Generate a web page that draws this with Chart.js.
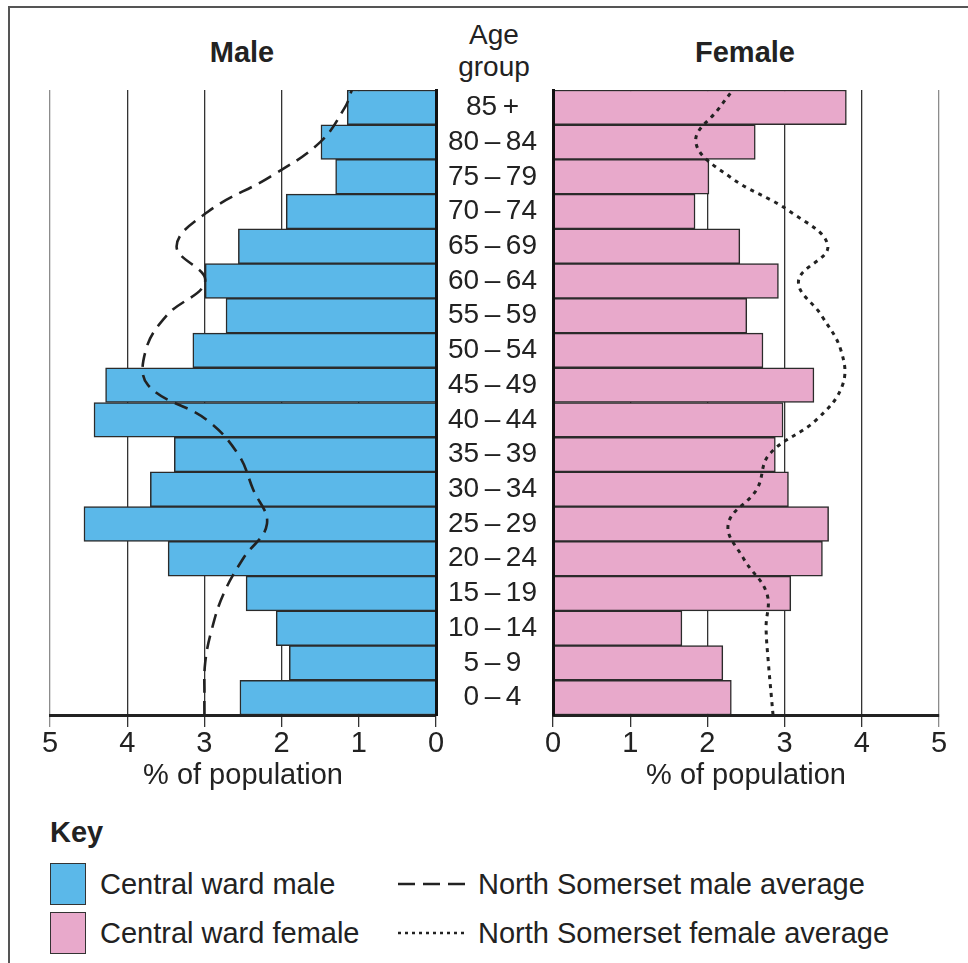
<!DOCTYPE html>
<html lang="en">
<head>
<meta charset="UTF-8">
<title>Central ward population pyramid</title>
<script src="https://cdn.jsdelivr.net/npm/chart.js"></script>
<style>
  body { margin: 0; background: #fff; font-family: "Liberation Sans", Arial, sans-serif; color: #222; }
  #page { position: relative; width: 968px; height: 963px; overflow: hidden; }
  #frame { position: absolute; left: 8px; top: 6px; width: 990px; height: 990px;
           border-top: 2px solid #555; border-left: 2px solid #555; }
  .lbl { position: absolute; font-size: 29px; line-height: 30px; white-space: nowrap; }
  .mid { transform: translateX(-50%); text-align: center; }
  .bold { font-weight: bold; }
  .swatch { position: absolute; width: 34px; height: 40px; border: 1.5px solid #333; }
  #maleChart { position: absolute; left: 30px; top: 80px; }
  #femaleChart { position: absolute; left: 440px; top: 80px; }
  svg.key { position: absolute; }
</style>
</head>
<body>
<div id="page">
  <div id="frame"></div>

  <div class="lbl mid bold" style="left:242px; top:37px;">Male</div>
  <div class="lbl mid bold" style="left:745px; top:37px;">Female</div>
  <div class="lbl mid" style="left:494px; top:19px; line-height:32px; font-size:28px;">Age<br>group</div>

  <canvas id="maleChart" width="420" height="720"></canvas>
  <canvas id="femaleChart" width="528" height="720"></canvas>

  <div class="lbl bold" style="left:50px; top:817px;">Key</div>
  <div class="swatch" style="left:50px; top:863px; background:#5BB8E9;"></div>
  <div class="lbl" style="left:100px; top:869px;">Central ward male</div>
  <div class="swatch" style="left:50px; top:912px; background:#E8A9CB;"></div>
  <div class="lbl" style="left:100px; top:918px;">Central ward female</div>

  <svg class="key" style="left:396px; top:874px;" width="72" height="20">
    <line x1="2" y1="10" x2="70" y2="10" stroke="#222" stroke-width="2.5" stroke-dasharray="17 8"></line>
  </svg>
  <div class="lbl" style="left:478px; top:869px;">North Somerset male average</div>
  <svg class="key" style="left:396px; top:923px;" width="72" height="20">
    <line x1="2" y1="10" x2="70" y2="10" stroke="#222" stroke-width="2.5" stroke-dasharray="3 4"></line>
  </svg>
  <div class="lbl" style="left:478px; top:918px;">North Somerset female average</div>
</div>

<script>
  // age groups listed from youngest (bottom of pyramid) to oldest (top)
  const ageGroups = ['0\u2009\u2013\u20094', '5\u2009\u2013\u20099', '10\u2009\u2013\u200914', '15\u2009\u2013\u200919',
    '20\u2009\u2013\u200924', '25\u2009\u2013\u200929', '30\u2009\u2013\u200934', '35\u2009\u2013\u200939',
    '40\u2009\u2013\u200944', '45\u2009\u2013\u200949', '50\u2009\u2013\u200954', '55\u2009\u2013\u200959',
    '60\u2009\u2013\u200964', '65\u2009\u2013\u200969', '70\u2009\u2013\u200974', '75\u2009\u2013\u200979',
    '80\u2009\u2013\u200984', '85\u2009+'];

  const maleWard   = [2.54, 1.90, 2.07, 2.46, 3.47, 4.56, 3.70, 3.39, 4.43, 4.28, 3.15, 2.72, 2.99, 2.56, 1.94, 1.30, 1.49, 1.15];
  const femaleWard = [2.31, 2.20, 1.67, 3.08, 3.49, 3.57, 3.05, 2.88, 2.98, 3.38, 2.72, 2.51, 2.92, 2.42, 1.84, 2.02, 2.62, 3.80];

  const maleAvg   = [3.00, 2.99, 2.90, 2.75, 2.50, 2.19, 2.37, 2.56, 2.97, 3.73, 3.76, 3.49, 2.99, 3.36, 2.95, 2.15, 1.50, 1.18];
  const femaleAvg = [2.83, 2.79, 2.76, 2.77, 2.47, 2.27, 2.64, 2.80, 3.41, 3.75, 3.73, 3.48, 3.18, 3.56, 3.07, 2.29, 1.85, 2.16];
  // where the average curves meet the bottom and top edges of the plot
  const maleAvgEnds   = [3.00, 1.09];
  const femaleAvgEnds = [2.85, 2.33];

  const xTicks = [0, 1, 2, 3, 4, 5];

  const BLUE = '#5BB8E9';
  const PINK = '#E8A9CB';
  const INK = '#222';

  Chart.defaults.font.family = '"Liberation Sans", Arial, sans-serif';
  Chart.defaults.color = INK;

  // line points sit in the middle of each age band, plus the two end points
  function curvePoints(values, ends) {
    const pts = [{ x: ends[0], y: 0 }];
    values.forEach((v, i) => pts.push({ x: v, y: i + 0.5 }));
    pts.push({ x: ends[1], y: ageGroups.length });
    return pts;
  }

  function xScale(reverse) {
    return {
      type: 'linear',
      position: 'bottom',
      min: xTicks[0],
      max: xTicks[xTicks.length - 1],
      reverse: reverse,
      afterBuildTicks: s => { s.ticks = xTicks.map(v => ({ value: v })); },
      ticks: { font: { size: 29 }, color: INK, padding: 0 },
      grid: {
        color: ctx => (ctx.tick && ctx.tick.value === 5) ? '#8c8c8c' : '#333',
        lineWidth: 1.3,
        tickLength: 12
      },
      border: { display: true, color: INK, width: 3, z: 1 },
      title: { display: true, text: '% of population', font: { size: 29 }, color: INK, padding: { top: 0, bottom: 7 } },
      afterFit: s => { s.height = 85; }
    };
  }

  function makeChart(id, ward, colour, avg, ends, dash, isMale) {
    const ctx = document.getElementById(id);
    const yScale = {
      type: 'category',
      position: isMale ? 'right' : 'left',
      reverse: true,
      offset: true,
      grid: { display: false, drawTicks: false, offset: true },
      border: { display: true, color: '#111', width: 3, z: 1 },
      ticks: isMale ? { display: false } :
        { font: { size: 28 }, color: INK, crossAlign: 'center', padding: 16, autoSkip: false },
      afterFit: s => {
        s.width = isMale ? 0 : 113;
        // keep the age labels from pushing the plot area down
        s.paddingTop = 0;
        s.paddingBottom = 0;
      }
    };
    return new Chart(ctx, {
      type: 'bar',
      data: {
        labels: ageGroups,
        datasets: [
          {
            type: 'line',
            order: 0,
            data: curvePoints(avg, ends),
            xAxisID: 'x',
            yAxisID: 'yl',
            borderColor: INK,
            borderWidth: isMale ? 2.6 : 3,
            borderDash: dash,
            borderCapStyle: 'butt',
            tension: 0.4,
            pointRadius: 0,
            fill: false
          },
          {
            type: 'bar',
            order: 1,
            data: ward,
            xAxisID: 'x',
            yAxisID: 'y',
            grouped: false,
            backgroundColor: colour,
            borderColor: '#2b2b2b',
            borderWidth: 1.5,
            barPercentage: 1,
            categoryPercentage: 1
          }
        ]
      },
      options: {
        indexAxis: 'y',
        responsive: false,
        animation: false,
        layout: { padding: isMale ? { left: 20, right: 14, top: 10, bottom: 0 } : { left: 0, right: 29, top: 10, bottom: 0 } },
        scales: {
          x: xScale(isMale),
          y: yScale,
          yl: { type: 'linear', display: false, offset: false, min: 0, max: ageGroups.length }
        },
        plugins: { legend: { display: false }, tooltip: { enabled: false } }
      }
    });
  }

  makeChart('maleChart', maleWard, BLUE, maleAvg, maleAvgEnds, [14, 8], true);
  makeChart('femaleChart', femaleWard, PINK, femaleAvg, femaleAvgEnds, [4, 5], false);
</script>
</body>
</html>
